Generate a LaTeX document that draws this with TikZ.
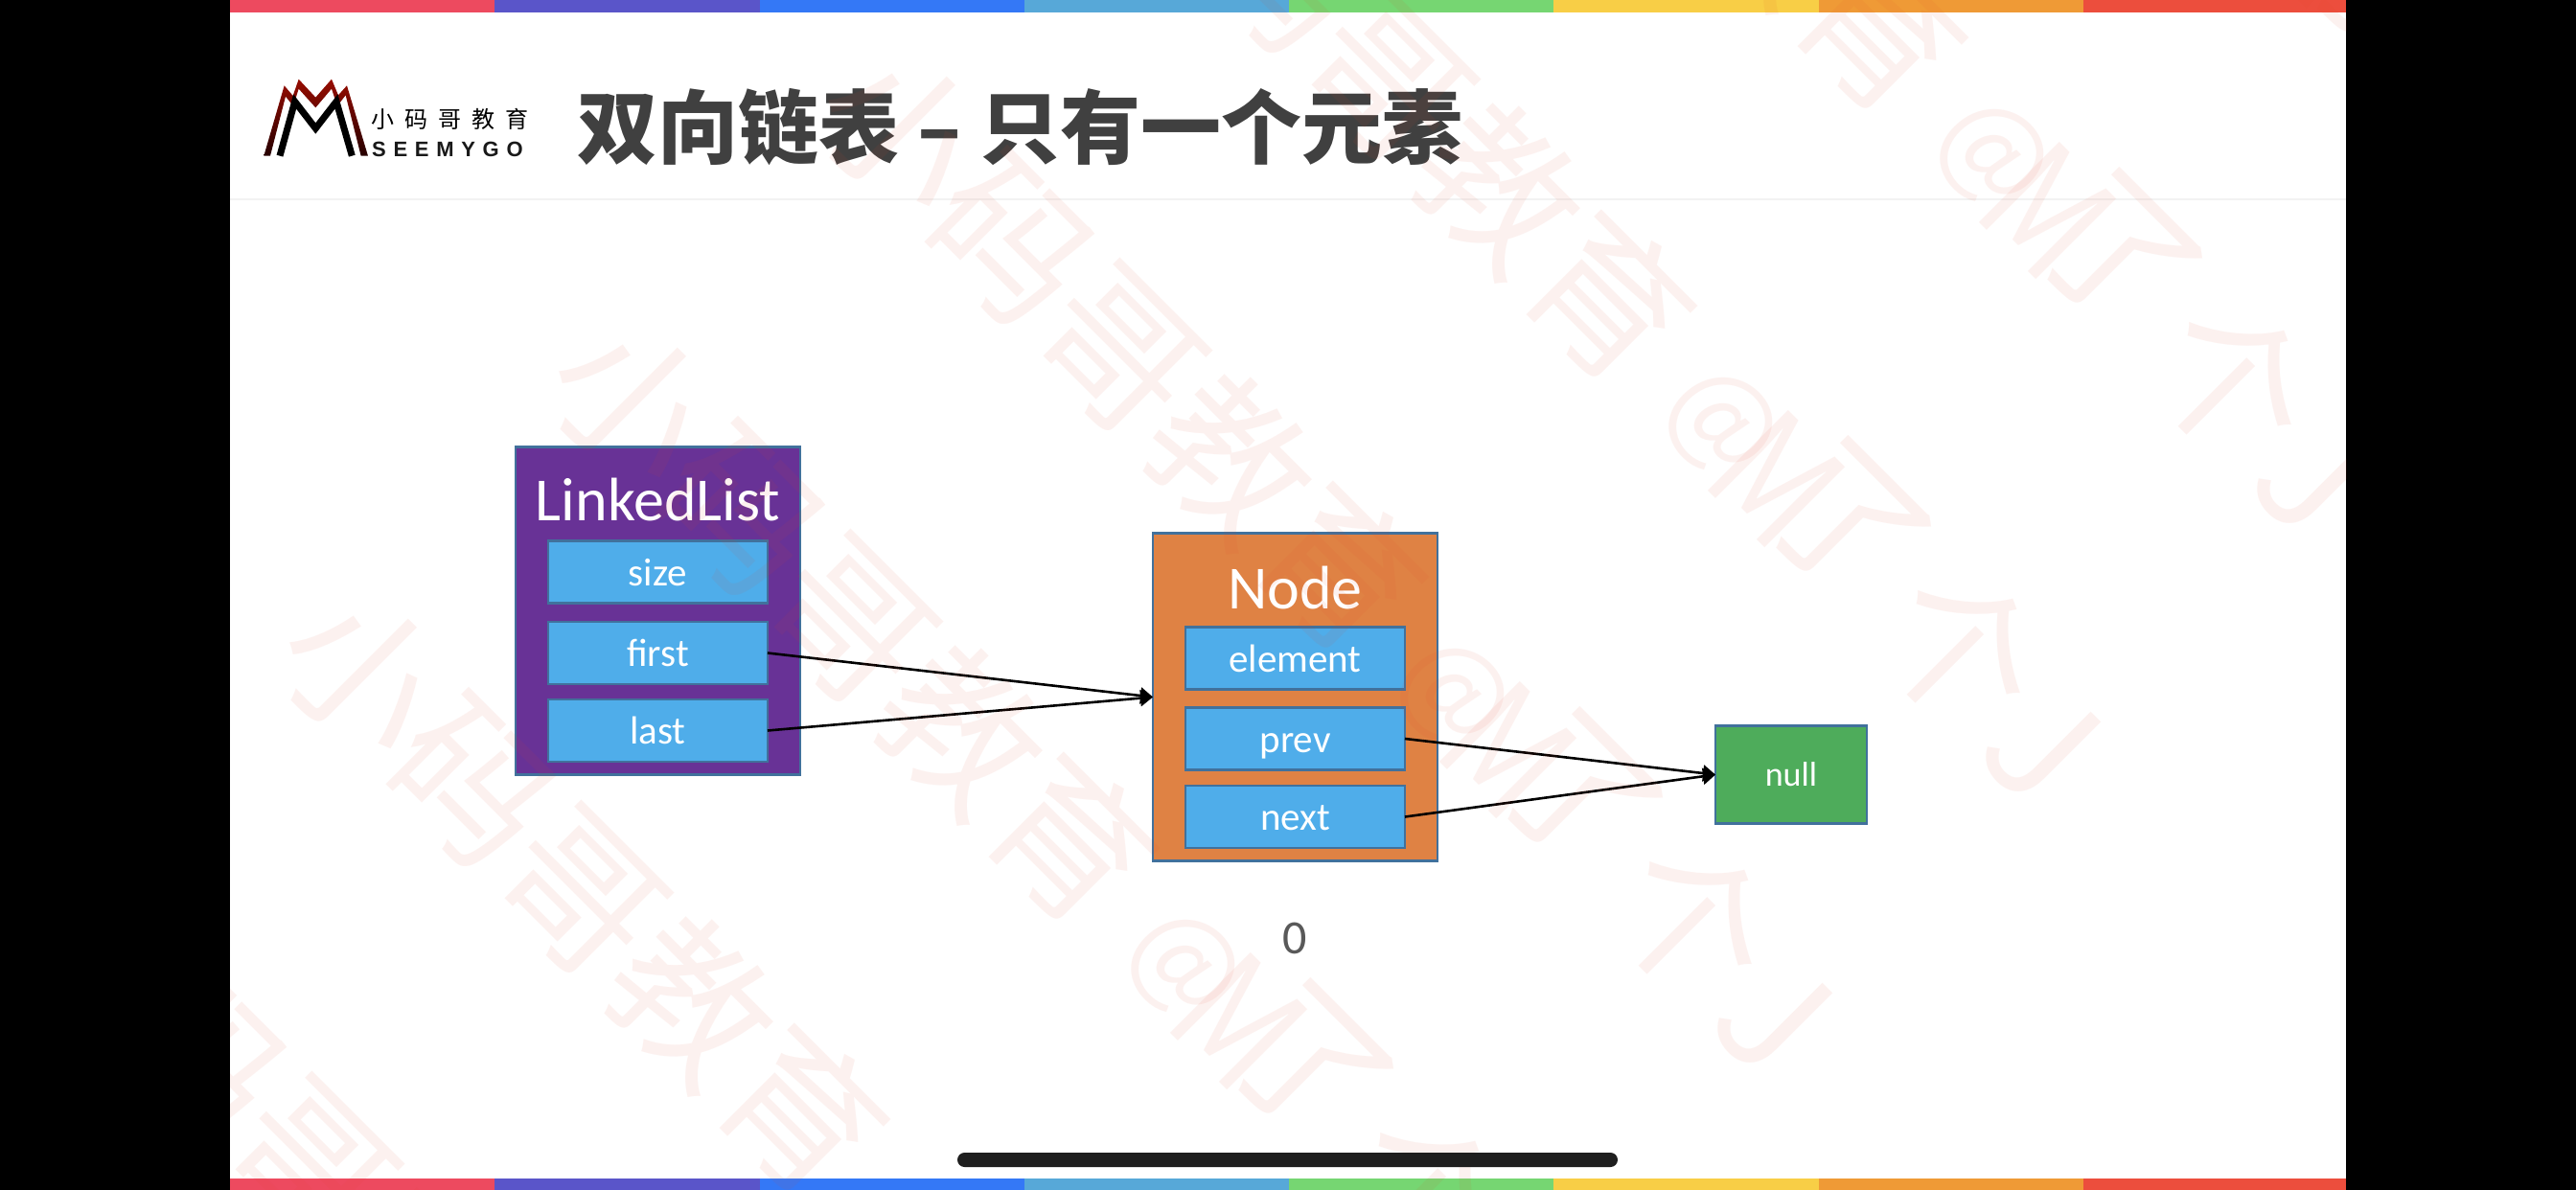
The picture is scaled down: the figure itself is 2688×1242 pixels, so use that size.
\documentclass[tikz,border=0pt]{standalone}
\usepackage{fontspec}
\usetikzlibrary{arrows.meta}
\setmainfont{Carlito}
\newfontfamily\cjk{Noto Sans CJK SC}
\newfontfamily\cjkblack{Noto Sans CJK SC Black}
\newfontfamily\logocjk[LetterSpace=46]{Noto Sans CJK SC}
\newfontfamily\logolat[LetterSpace=35]{Liberation Sans}
\definecolor{barA}{HTML}{ED4A5F}\definecolor{barB}{HTML}{5A55C9}\definecolor{barC}{HTML}{3478F6}
\definecolor{barD}{HTML}{57A8D8}\definecolor{barE}{HTML}{76D672}\definecolor{barF}{HTML}{F8CE46}
\definecolor{barG}{HTML}{EF9A36}\definecolor{barH}{HTML}{EC4E3D}
\definecolor{edgeblue}{HTML}{41719C}\definecolor{fieldblue}{HTML}{4FADEA}
\definecolor{listpurple}{HTML}{683296}\definecolor{nodeorange}{HTML}{DF8244}\definecolor{nullgreen}{HTML}{4EAC5B}
\definecolor{wmred}{HTML}{E24529}\definecolor{titlegrey}{HTML}{404040}
\tikzset{
 boxbase/.style={draw=edgeblue,line width=2.5pt,rectangle,inner sep=0pt,outer sep=0pt,text=white,align=center},
 classbox/.style={boxbase,minimum width=297pt,minimum height=342pt},
 fieldbox/.style={boxbase,fill=fieldblue,minimum width=229pt,minimum height=65pt,text height=32pt,text depth=4pt,font=\fontsize{41}{44}\selectfont},
 headlabel/.style={text=white,inner sep=0pt,font=\fontsize{64}{70}\selectfont},
 link/.style={draw=black,line width=2.6pt,-{Triangle[length=13pt,width=17pt]}},
 wmark/.style={rotate=-45,anchor=center,inner sep=0pt,text=wmred,text opacity=0.07,font=\cjk\fontsize{162}{170}\selectfont},
}
\newcommand{\wmline}[3]{%
 \node[wmark] (#1str) at ({#2-344},{#3-362}) {小码哥教育};
 \node[wmark] (#1at) at (#2,#3) {\scalebox{.72}{@}};
 \node[wmark] (#1m) at ({#2+59},{#3+57}) {\scalebox{.85}[1]{M}};
 \node[wmark] (#1le) at ({#2+132},{#3+105}) {了};
 \node[wmark] (#1ge) at ({#2+252},{#3+234}) {个};
 \node[wmark] (#1j) at ({#2+335},{#3+334}) {J};
}
\begin{document}
\begin{tikzpicture}[x=1pt,y=-1pt]
\useasboundingbox (0,0) rectangle (2688,1242);
\fill[black] (0,0) rectangle (2688,1242);
\fill[white] (240,0) rectangle (2448,1242);
% colour bars
\foreach \a/\b/\c in {240/516/barA,516/793/barB,793/1069/barC,1069/1345/barD,1345/1621/barE,1621/1898/barF,1898/2174/barG,2174/2448/barH}{
 \fill[\c] (\a,0) rectangle (\b,13);
 \fill[\c] (\a,1230) rectangle (\b,1242);
}
\fill[black!5] (240,206.5) rectangle (2448,209);
% logo
\begin{scope}[shift={(260,70)},x=0.3333pt,y=-0.3333pt]
 \shade[top color=red!55!black!90!orange,middle color=red!65!black,bottom color=black!85!red]
  (46,278)--(110,58)--(137,90)--(155,38)--(208,95)--(258,38)--(279,88)--(306,58)--(372,278)--(350,278)--(302,88)--(276,122)--(258,68)--(208,127)--(155,68)--(138,122)--(114,92)--(66,278)--cycle;
 \draw[black,line width=7pt,line join=miter] (96,278)--(143,108)--(208,192)--(273,108)--(322,278);
\end{scope}
\node[anchor=west,inner sep=0pt,font=\logocjk\fontsize{24}{26}\selectfont,text=black] (logoa) at (387,124) {小码哥教育};
\node[anchor=west,inner sep=0pt,font=\logolat\bfseries\fontsize{22}{24}\selectfont,text=black!90] (logob) at (388,156) {SEEMYGO};
% title
\node[anchor=west,inner sep=0pt,text=titlegrey,font=\cjkblack\fontsize{84}{90}\selectfont] (title) at (602,133) {双向链表 – 只有一个元素};
% LinkedList
\node[classbox,fill=listpurple] (list) at (686.5,637.5) {};
\node[headlabel] (listname) at (686.5,522) {LinkedList};
\node[fieldbox] (size) at (686.5,597) {size};
\node[fieldbox] (first) at (686.5,681.5) {first};
\node[fieldbox] (last) at (686.5,762.5) {last};
% Node
\node[classbox,fill=nodeorange] (node) at (1351.5,727.5) {};
\node[headlabel] (nodename) at (1351.5,613) {Node};
\node[fieldbox] (element) at (1351.5,687) {element};
\node[fieldbox] (prev) at (1351.5,771) {prev};
\node[fieldbox] (next) at (1351.5,852.5) {next};
% null
\node[boxbase,fill=nullgreen,minimum width=158pt,minimum height=102pt,font=\fontsize{36}{40}\selectfont] (null) at (1869,808.5) {null};
\node[inner sep=0pt,text=black!65,font=\fontsize{50}{52}\selectfont] (zero) at (1351,979) {0};
\draw[link] (first.east) -- (node.west);
\draw[link] (last.east) -- (node.west);
\draw[link] (prev.east) -- (null.west);
\draw[link] (next.east) -- (null.west);
% watermark
\begin{scope}
 \clip (240,0) rectangle (2448,1242);
 \wmline{wz}{672}{1575}
 \wmline{wa}{953}{1292}
 \wmline{wb}{1234}{1009}
 \wmline{wc}{1515}{726}
 \wmline{wd}{1795}{443}
 \wmline{we}{2078}{163}
 \wmline{wf}{2360}{-120}
\end{scope}
\fill[black!88,rounded corners=7.5pt] (999,1203) rectangle (1688,1218);
\end{tikzpicture}
\end{document}
